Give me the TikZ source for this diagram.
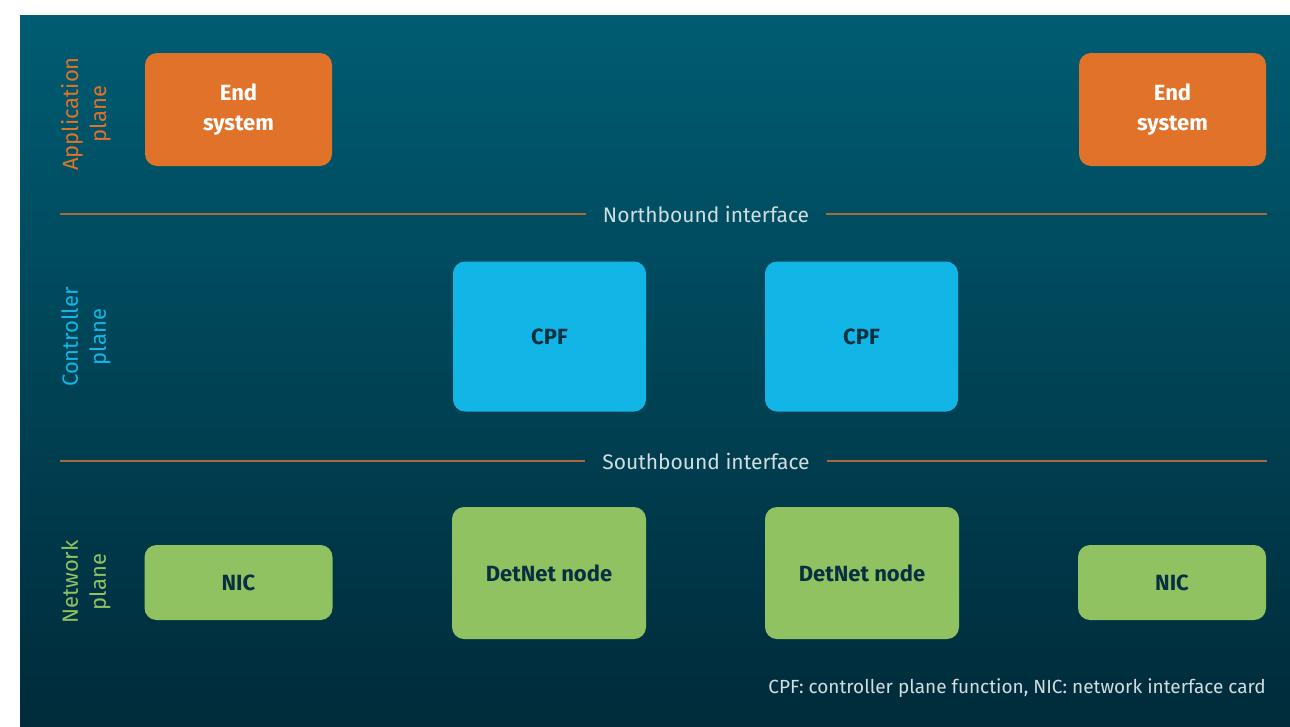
\documentclass[tikz,border=0pt]{standalone}
\usepackage{fontspec}
\setmainfont{Fira Sans}
\usetikzlibrary{positioning}
\definecolor{BgTop}{RGB}{0,92,114}
\definecolor{BgBottom}{RGB}{0,43,58}
\definecolor{AppOrange}{RGB}{225,114,42}
\definecolor{CtrlBlue}{RGB}{18,182,230}
\definecolor{NetGreen}{RGB}{145,194,98}
\definecolor{DarkText}{RGB}{8,48,64}
\definecolor{LineBrown}{RGB}{168,106,60}
\definecolor{SoftText}{RGB}{208,222,226}
\begin{document}
\begin{tikzpicture}
[
x=1pt, y=-1pt,
Box/.style={rectangle, rounded corners=12pt, inner sep=0pt, align=center, font=\fontsize{22}{30}\selectfont\bfseries},
EndSystem/.style={Box, fill=AppOrange, text=white, minimum width=187pt, minimum height=113pt},
Cpf/.style={Box, fill=CtrlBlue, text=DarkText, minimum width=193pt, minimum height=150pt},
DetNode/.style={Box, fill=NetGreen, text=DarkText, minimum width=194pt, minimum height=132pt},
Nic/.style={Box, fill=NetGreen, text=DarkText, minimum width=188pt, minimum height=75pt},
PlaneLabel/.style={rotate=90, align=center, inner sep=0pt, font=\fontsize{22}{28}\selectfont},
Interface/.style={text=SoftText, inner xsep=17pt, inner ysep=0pt, font=\fontsize{21}{25}\selectfont},
InterfaceLine/.style={draw=LineBrown, line width=1.6pt},
]

\useasboundingbox (0,0) rectangle (1290,726);
\fill[top color=BgTop, bottom color=BgBottom] (20,15) rectangle (1290,726);

% plane labels
\node[PlaneLabel, text=AppOrange] (appplane) at (86,114) {Application\\plane};
\node[PlaneLabel, text=CtrlBlue] (ctrlplane) at (86,337) {Controller\\plane};
\node[PlaneLabel, text=NetGreen] (netplane) at (86,582) {Network\\plane};

% application plane
\node[EndSystem] (es1) at (238.5,109.5) {End\\system};
\node[EndSystem] (es2) at (1172.5,109.5) {End\\system};

% northbound interface
\node[Interface] (north) at (706,214) {Northbound interface};
\coordinate (northL) at (60,214);
\coordinate (northR) at (1267,214);
\draw[InterfaceLine] (northL) -- (north.west);
\draw[InterfaceLine] (north.east) -- (northR);

% controller plane
\node[Cpf] (cpf1) at (549.5,336.5) {CPF};
\node[Cpf] (cpf2) at (861.5,336.5) {CPF};

% southbound interface
\node[Interface] (south) at (706,461) {Southbound interface};
\coordinate (southL) at (60,461);
\coordinate (southR) at (1267,461);
\draw[InterfaceLine] (southL) -- (south.west);
\draw[InterfaceLine] (south.east) -- (southR);

% network plane
\node[Nic] (nic1) at (238.5,582.5) {NIC};
\node[DetNode] (dn1) at (549,573) {DetNet node};
\node[DetNode] (dn2) at (862,573) {DetNet node};
\node[Nic] (nic2) at (1172,582.5) {NIC};

\node[text=SoftText, anchor=east, inner sep=0pt, font=\fontsize{19}{23}\selectfont] (legend) at (1266,688) {CPF: controller plane function, NIC: network interface card};

\end{tikzpicture}
\end{document}
